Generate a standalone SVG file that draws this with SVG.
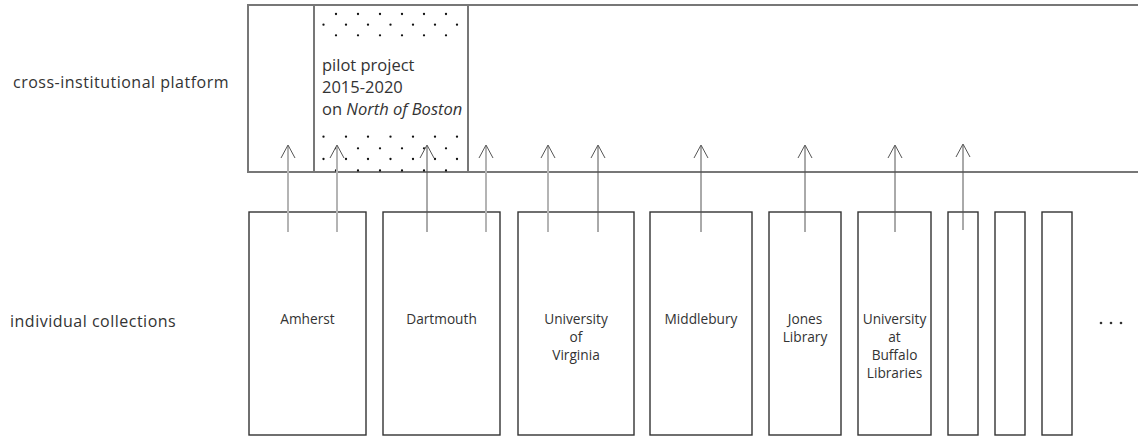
<svg xmlns="http://www.w3.org/2000/svg" width="1138" height="437" viewBox="0 0 1138 437">
<style>
.lbl{font-family:"Open Sans","Noto Sans",sans-serif;fill:#333}
.side{font-size:16px;letter-spacing:0.5px}
.box{fill:none;stroke:#333;stroke-width:1.4}
.bt{font-size:13.7px;text-anchor:middle}
.pt{font-size:16.5px}
.plat{fill:none;stroke:#777;stroke-width:2}
.ag{stroke:#b4b4b4;stroke-width:2}
.ad{stroke:#555;stroke-width:1}
.head{fill:none;stroke:#555;stroke-width:1}
.dot{fill:#111}
</style>
<defs>
<circle id="d" r="1.15"/>
<g id="rowA" class="dot"><use href="#d" x="336"/><use href="#d" x="358"/><use href="#d" x="380"/><use href="#d" x="402"/><use href="#d" x="424"/><use href="#d" x="446"/></g>
<g id="rowB" class="dot"><use href="#d" x="323.5"/><use href="#d" x="346"/><use href="#d" x="368"/><use href="#d" x="390.5"/><use href="#d" x="413"/><use href="#d" x="435"/><use href="#d" x="457"/></g>
</defs>
<rect width="1138" height="437" fill="#fff"/>
<g id="platform">
<path class="plat" d="M1140 5 H248 V172 H1140 M314 5 V172 M468 5 V172"/>
<text class="lbl side" x="13" y="88">cross-institutional platform</text>
</g>
<g id="pilot">
<use href="#rowA" y="14"/>
<use href="#rowB" y="24.7"/>
<use href="#rowA" y="35.3"/>
<use href="#rowB" y="136.7"/>
<use href="#rowA" y="148.3"/>
<use href="#rowB" y="159"/>
<use href="#rowA" y="170.5"/>
<text class="lbl pt" x="322" y="71">pilot project</text>
<text class="lbl pt" x="322" y="93">2015-2020</text>
<text class="lbl pt" x="322" y="115">on <tspan font-style="italic">North of Boston</tspan></text>
</g>
<g id="collections-label">
<text class="lbl side" x="10" y="327">individual collections</text>
</g>
<g id="amherst"><rect class="box" x="249" y="212" width="117" height="223"/><text class="lbl bt" x="307.5" y="324">Amherst</text></g>
<g id="dartmouth"><rect class="box" x="383" y="212" width="117" height="223"/><text class="lbl bt" x="441.5" y="324">Dartmouth</text></g>
<g id="virginia"><rect class="box" x="518" y="212" width="116" height="223"/><text class="lbl bt" x="576" y="324">University</text><text class="lbl bt" x="576" y="342">of</text><text class="lbl bt" x="576" y="360">Virginia</text></g>
<g id="middlebury"><rect class="box" x="650" y="212" width="102" height="223"/><text class="lbl bt" x="701" y="324">Middlebury</text></g>
<g id="jones"><rect class="box" x="769" y="212" width="72" height="223"/><text class="lbl bt" x="805" y="324">Jones</text><text class="lbl bt" x="805" y="342">Library</text></g>
<g id="buffalo"><rect class="box" x="858" y="212" width="73" height="223"/><text class="lbl bt" x="894.5" y="324">University</text><text class="lbl bt" x="894.5" y="342">at</text><text class="lbl bt" x="894.5" y="360">Buffalo</text><text class="lbl bt" x="894.5" y="378">Libraries</text></g>
<g id="other1"><rect class="box" x="948" y="212" width="30" height="223"/></g>
<g id="other2"><rect class="box" x="995" y="212" width="30" height="223"/></g>
<g id="other3"><rect class="box" x="1042" y="212" width="30" height="223"/></g>
<g id="more"><circle cx="1101" cy="323" r="1.3" fill="#333"/><circle cx="1111" cy="323" r="1.3" fill="#333"/><circle cx="1121" cy="323" r="1.3" fill="#333"/></g>
<g id="connectors">
<line class="ag" x1="288" y1="232" x2="288" y2="146"/>
<line class="ag" x1="337" y1="232" x2="337" y2="146"/>
<line class="ad" x1="427" y1="232" x2="427" y2="146"/>
<line class="ag" x1="486" y1="232" x2="486" y2="146"/>
<line class="ag" x1="548" y1="232" x2="548" y2="146"/>
<line class="ad" x1="598" y1="232" x2="598" y2="146"/>
<line class="ad" x1="701" y1="232" x2="701" y2="146"/>
<line class="ad" x1="805" y1="232" x2="805" y2="146"/>
<line class="ad" x1="895" y1="232" x2="895" y2="146"/>
<line class="ad" x1="963" y1="230" x2="963" y2="145"/>
<path class="head" d="M281 158 L288 145 L295 158 M330 158 L337 145 L344 158 M420 158 L427 145 L434 158 M479 158 L486 145 L493 158 M541 158 L548 145 L555 158 M591 158 L598 145 L605 158 M694 158 L701 145 L708 158 M798 158 L805 145 L812 158 M888 158 L895 145 L902 158 M956 157 L963 144 L970 157"/>
</g>
</svg>
